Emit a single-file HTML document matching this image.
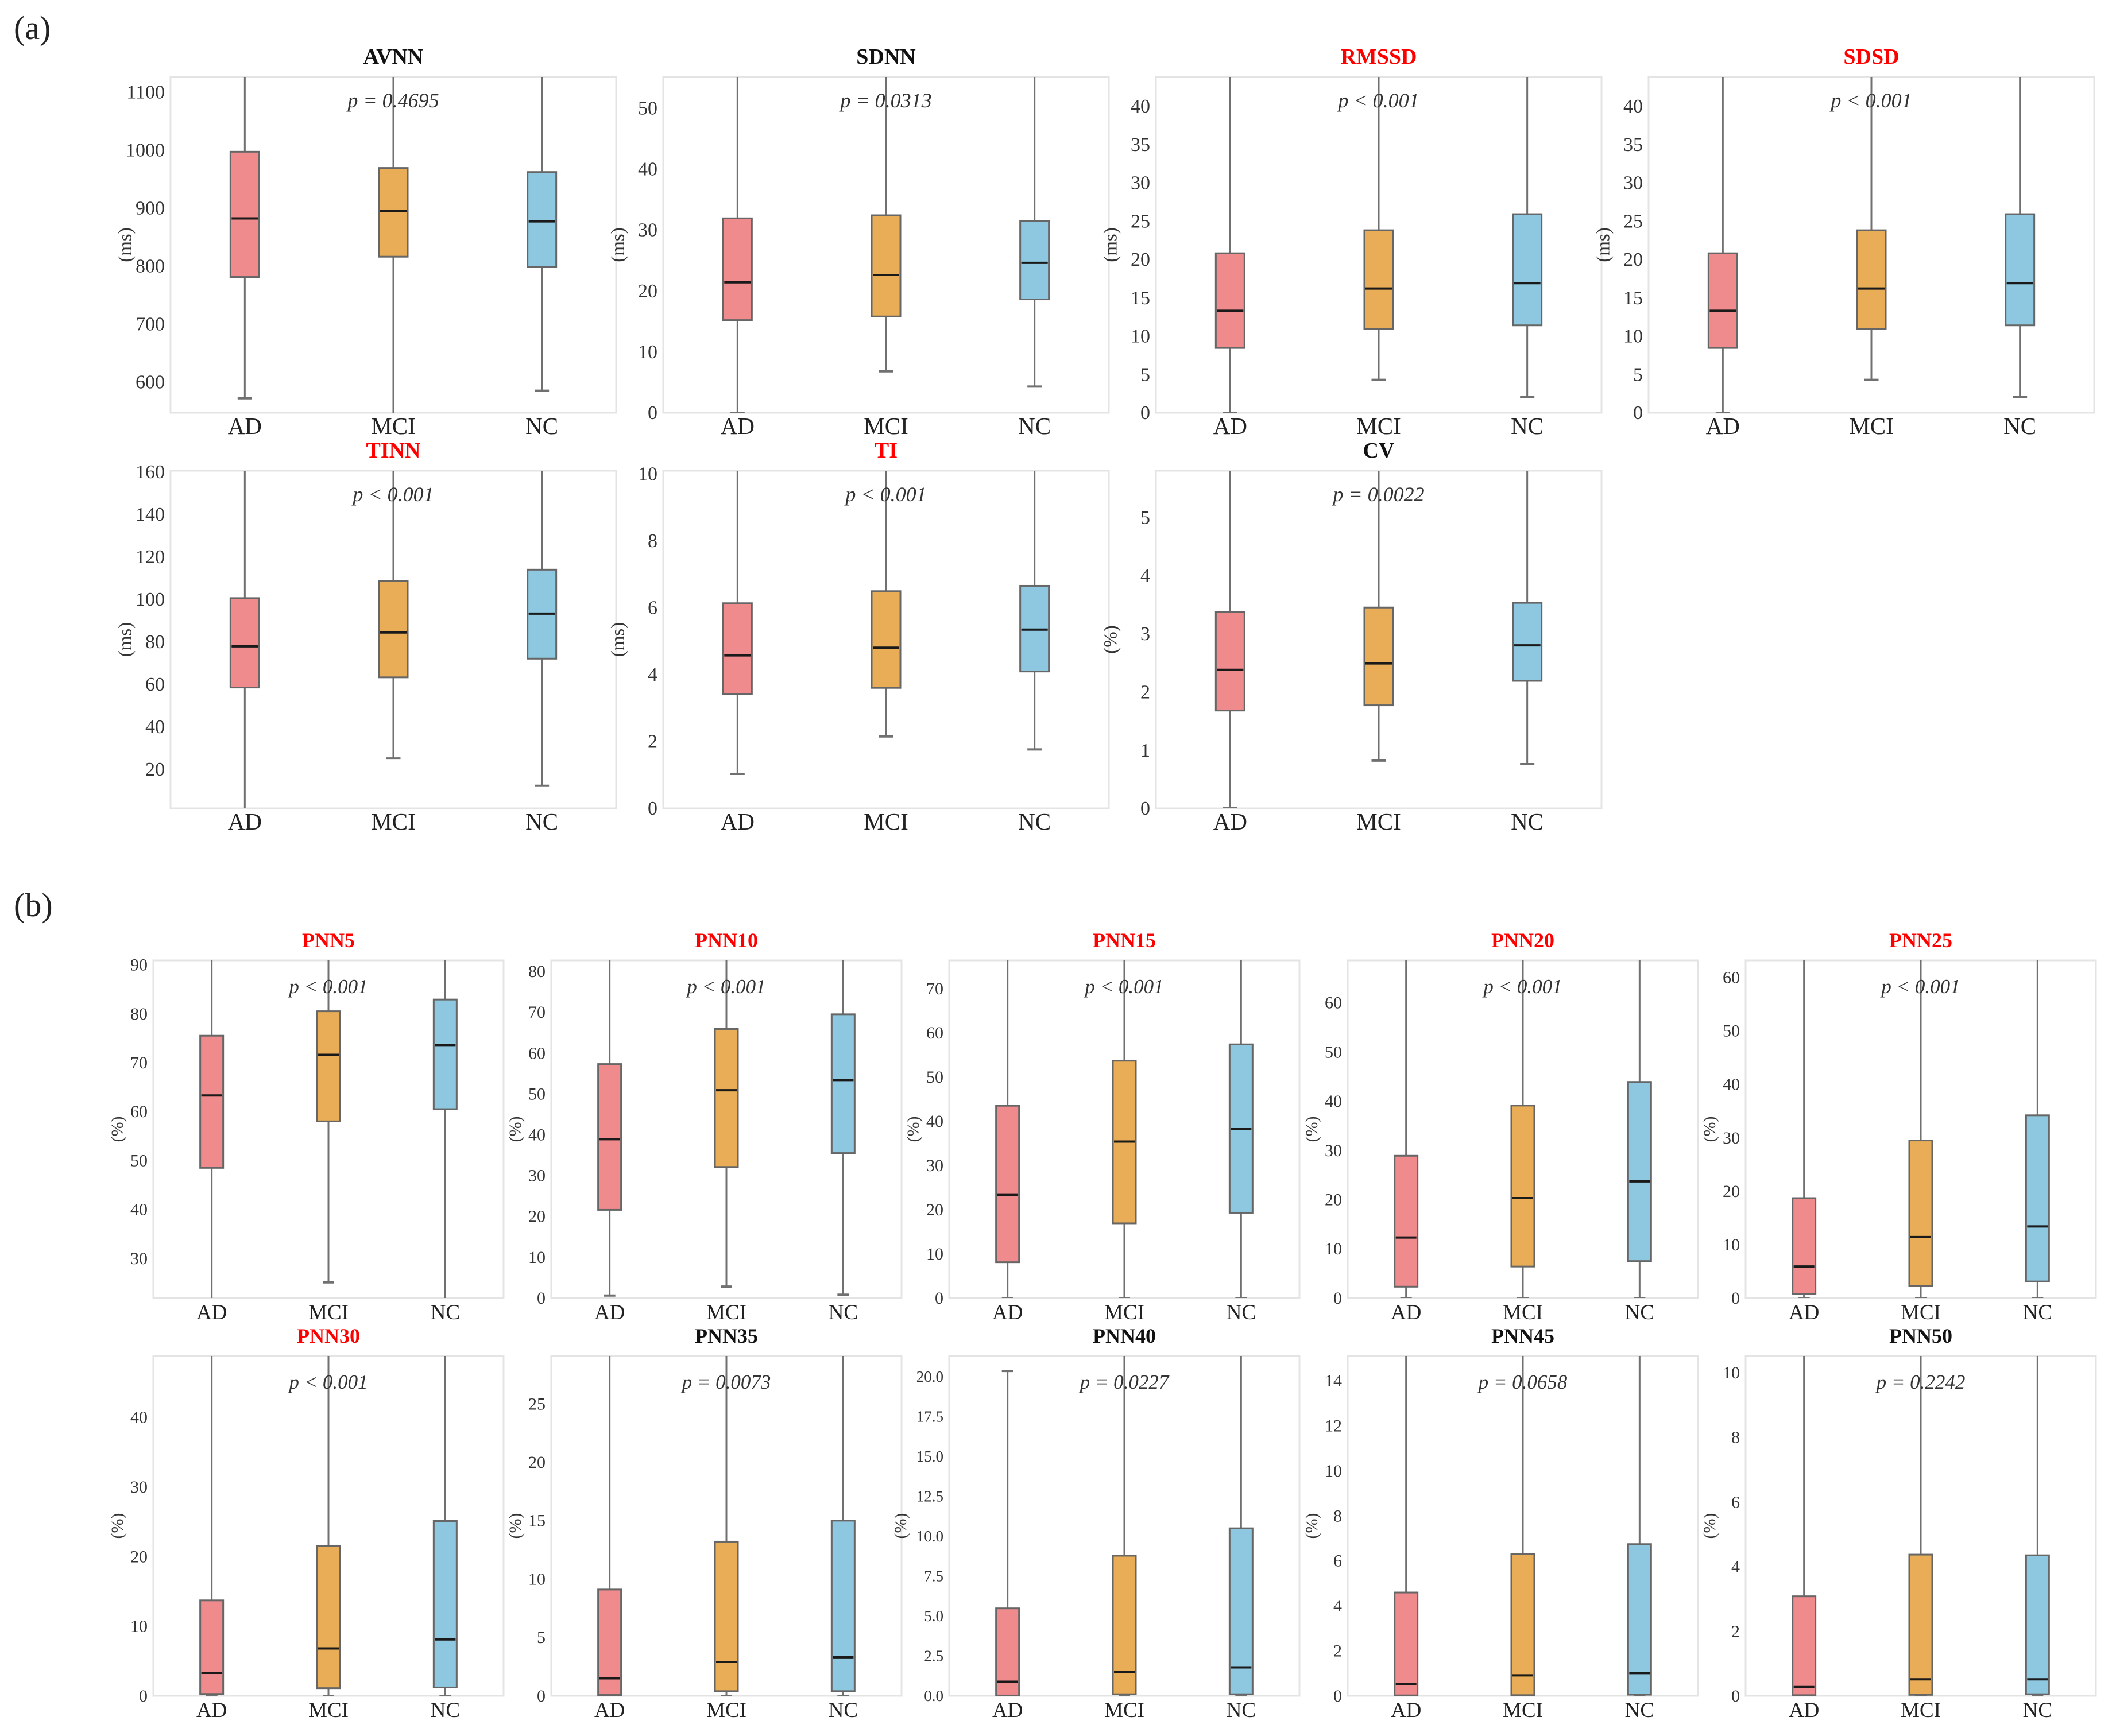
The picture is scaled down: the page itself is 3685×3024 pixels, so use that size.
<!DOCTYPE html>
<html><head><meta charset="utf-8">
<style>
html,body{margin:0;padding:0;background:#fff;}
svg{display:block;font-family:"Liberation Serif","DejaVu Serif",serif;}
</style></head>
<body>
<svg id="fig" xmlns="http://www.w3.org/2000/svg" width="3685" height="3024" viewBox="0 0 3685 3024">
<rect x="0" y="0" width="3685" height="3024" fill="#fff"/>
<text x="24" y="68" font-size="58" fill="#222">(a)</text>
<text x="24" y="1596" font-size="58" fill="#222">(b)</text>
</svg>
<script>
// ---- data ----
const categories = ["AD","MCI","NC"];
const panelTitles = ["AVNN","SDNN","RMSSD","SDSD","TINN","TI","CV",
  "PNN5","PNN10","PNN15","PNN20","PNN25","PNN30","PNN35","PNN40","PNN45","PNN50"];
const titleSignificant = [false,false,true,true,true,true,false,
  true,true,true,true,true,true,false,false,false,false];
const pTexts = ["p = 0.4695","p = 0.0313","p < 0.001","p < 0.001","p < 0.001","p < 0.001","p = 0.0022",
  "p < 0.001","p < 0.001","p < 0.001","p < 0.001","p < 0.001","p < 0.001","p = 0.0073","p = 0.0227","p = 0.0658","p = 0.2242"];
const units = ["(ms)","(ms)","(ms)","(ms)","(ms)","(ms)","(%)",
  "(%)","(%)","(%)","(%)","(%)","(%)","(%)","(%)","(%)","(%)"];
const yMins = [547,0,0,0,1.5,0,0, 21.9,0,0,0,0,0,0,0,0,0];
const yMaxs = [1126,55.1,43.8,43.8,160.5,10.09,5.8, 90.9,82.7,76.4,68.6,63.2,48.8,29.1,21.3,15.1,10.52];
const tickLabels = [
  ["600","700","800","900","1000","1100"],
  ["0","10","20","30","40","50"],
  ["0","5","10","15","20","25","30","35","40"],
  ["0","5","10","15","20","25","30","35","40"],
  ["20","40","60","80","100","120","140","160"],
  ["0","2","4","6","8","10"],
  ["0","1","2","3","4","5"],
  ["30","40","50","60","70","80","90"],
  ["0","10","20","30","40","50","60","70","80"],
  ["0","10","20","30","40","50","60","70"],
  ["0","10","20","30","40","50","60"],
  ["0","10","20","30","40","50","60"],
  ["0","10","20","30","40"],
  ["0","5","10","15","20","25"],
  ["0.0","2.5","5.0","7.5","10.0","12.5","15.0","17.5","20.0"],
  ["0","2","4","6","8","10","12","14"],
  ["0","2","4","6","8","10"]
];
// per panel: [AD, MCI, NC]
const whiskerLow = [
  [572,540,585],[0,6.8,4.3],[0,4.3,2.1],[0,4.3,2.1],[0,25,12.1],[1.03,2.15,1.76],[0,0.82,0.76],
  [20,25.1,20],[0.6,2.8,0.8],[0,0,0],[0,0,0],[0,0,0],[0,0,0],[0,0,0],[0,0,0],[0,0,0],[0,0,0]
];
const q1 = [
  [781,816,798],[15.2,15.8,18.6],[8.45,10.9,11.4],[8.45,10.9,11.4],[58.4,63.2,72],[3.42,3.6,4.09],[1.68,1.77,2.19],
  [48.5,58.0,60.5],[21.6,32.1,35.5],[8.1,16.9,19.3],[2.3,6.4,7.5],[0.7,2.3,3.1],[0.27,1.1,1.2],[0.07,0.4,0.4],[0.02,0.1,0.1],[0.02,0.03,0.05],[0.02,0.03,0.05]
];
const median = [
  [882,895,877],[21.4,22.6,24.6],[13.3,16.2,16.9],[13.3,16.2,16.9],[77.8,84.3,93.2],[4.57,4.8,5.34],[2.38,2.49,2.80],
  [63.3,71.6,73.6],[38.9,50.9,53.4],[23.3,35.4,38.2],[12.3,20.3,23.7],[5.9,11.4,13.4],[3.3,6.8,8.1],[1.5,2.9,3.3],[0.88,1.49,1.78],[0.52,0.91,1.01],[0.27,0.51,0.51]
];
const q3 = [
  [997,969,962],[31.9,32.4,31.5],[20.8,23.8,25.9],[20.8,23.8,25.9],[100.5,108.6,113.9],[6.13,6.49,6.65],[3.37,3.45,3.53],
  [75.5,80.5,82.9],[57.3,65.9,69.5],[43.5,53.7,57.4],[28.9,39.1,43.9],[18.7,29.5,34.2],[13.7,21.5,25.1],[9.1,13.2,15.0],[5.48,8.78,10.5],[4.59,6.31,6.74],[3.08,4.37,4.35]
];
const whiskerHigh = [
  [1200,1200,1200],[60,60,60],[50,50,50],[50,50,50],[170,170,170],[11,11,11],[6.5,6.5,6.5],
  [95,95,95],[90,90,90],[80,80,80],[75,75,75],[70,70,70],[55,55,55],[32,32,32],[20.36,25,25],[17,17,17],[12,12,12]
];

// ---- layout (not data) ----
const boxColors = ["#ef8a8d","#e8ad56","#8dc8e0"];
const rowsA = [[134,719],[820,1408]];
const rowsB = [[1673,2261],[2362,2954]];
const lefts4 = [297,1155,2013,2871];
const lefts5 = [267,960,1653,2347,3040];
function frameOf(i){
  if(i<7){ const r=i<4?0:1, c=i<4?i:i-4; return {x:lefts4[c],w:776,y0:rowsA[r][0],y1:rowsA[r][1],bw:50,tf:34,xf:41,lab:76,big:true}; }
  const j=i-7, r=j<5?0:1, c=j%5; return {x:lefts5[c],w:610,y0:rowsB[r][0],y1:rowsB[r][1],bw:40,tf:i===14?27:30,xf:37,lab:i===14?82:60,big:false};
}
const NS="http://www.w3.org/2000/svg";
const svg=document.getElementById("fig");
function mk(tag,attrs,parent){const e=document.createElementNS(NS,tag);for(const k in attrs)e.setAttribute(k,attrs[k]);(parent||svg).appendChild(e);return e;}

panelTitles.forEach((title,i)=>{
  const f=frameOf(i);
  const g=mk("g",{});
  
  
  const yMin=yMins[i], yMax=yMaxs[i];
  const yScale=v=>f.y1-(v-yMin)/(yMax-yMin)*(f.y1-f.y0);
  const xScale=k=>f.x+f.w*(2*k+1)/6;
  const cid="clip"+i;
  const cp=mk("clipPath",{id:cid},g); mk("rect",{x:f.x,y:f.y0,width:f.w,height:f.y1-f.y0},cp);
  const frame=mk("rect",{x:f.x,y:f.y0,width:f.w,height:f.y1-f.y0,fill:"none",stroke:"#e4e4e4","stroke-width":3},g);
  
  
  const t=mk("text",{x:f.x+f.w/2,y:f.y0-23,"text-anchor":"middle","font-size":f.big?38:36,"font-weight":"bold",fill:titleSignificant[i]?"#ff0000":"#111"},g);
  t.textContent=title;
  
  
  const ticks=tickLabels[i];
  ticks.forEach(lbl=>{
    const v=parseFloat(lbl);
    const tt=mk("text",{x:f.x-10,y:yScale(v)+f.tf*0.33,"text-anchor":"end","font-size":f.tf,fill:"#333"},g);
    tt.textContent=lbl;
    
    
  });
  const ym=(f.y0+f.y1)/2, yx=f.x-f.lab;
  const yl=mk("text",{x:yx,y:ym,"text-anchor":"middle","dominant-baseline":"middle","font-size":f.big?33:30,fill:"#333",transform:"rotate(-90 "+yx+" "+ym+")"},g);
  yl.textContent=units[i];
  
  
  const pg=mk("g",{"clip-path":"url(#"+cid+")"},g);
  categories.forEach((cat,k)=>{
    const cx=xScale(k), bw=f.bw;
    const bg=mk("g",{},pg);
    
    
    const yl0=yScale(whiskerLow[i][k]), yq1=yScale(q1[i][k]), ymed=yScale(median[i][k]), yq3=yScale(q3[i][k]), yh=yScale(whiskerHigh[i][k]);
    mk("line",{x1:cx,x2:cx,y1:yq1,y2:yl0,stroke:"#707070","stroke-width":3},bg);
    mk("line",{x1:cx,x2:cx,y1:yq3,y2:yh,stroke:"#707070","stroke-width":3},bg);
    mk("line",{x1:cx-bw/4,x2:cx+bw/4,y1:yl0,y2:yl0,stroke:"#707070","stroke-width":4},bg);
    mk("line",{x1:cx-bw/4,x2:cx+bw/4,y1:yh,y2:yh,stroke:"#707070","stroke-width":4},bg);
    mk("rect",{x:cx-bw/2,y:yq3,width:bw,height:Math.max(1,yq1-yq3),fill:boxColors[k],stroke:"#666","stroke-width":3},bg);
    mk("line",{x1:cx-bw/2+2,x2:cx+bw/2-2,y1:ymed,y2:ymed,stroke:"#1a1a1a","stroke-width":4},bg);
  });
  categories.forEach((cat,k)=>{
    const xl=mk("text",{x:xScale(k),y:f.y1+37,"text-anchor":"middle","font-size":f.xf,fill:"#222"},g);
    xl.textContent=cat;
    
    
  });
  const pt=mk("text",{x:f.x+f.w/2,y:f.y0+(f.big?53:57),"text-anchor":"middle","font-size":f.big?36:35,"font-style":"italic",fill:"#333"},g);
  pt.textContent=pTexts[i];
  
  
});
</script>
</body></html>
